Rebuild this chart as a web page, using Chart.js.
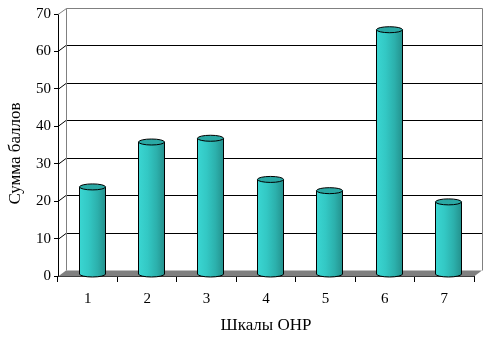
<!DOCTYPE html>
<html>
<head>
<meta charset="utf-8">
<script src="https://cdn.jsdelivr.net/npm/chart.js@4"></script>
<style>
  html, body { margin: 0; padding: 0; background: #fff; }
  #wrap { width: 495px; height: 339px; }
</style>
</head>
<body>
<div id="wrap"><canvas id="myChart" width="495" height="339"></canvas></div>
<script>
const scales = ['1', '2', '3', '4', '5', '6', '7']
const scores = [23, 35, 36, 25, 22, 65, 19]
const yTicks = [0, 10, 20, 30, 40, 50, 60, 70]

const DX = 8, DY = 6   // depth of the 3d box

// back wall, grid lines, floor
const wallPlugin = {
    id: 'wall',
    beforeDatasetsDraw(chart) {
        const ctx = chart.ctx
        const y = chart.scales.y
        const a = chart.chartArea
        ctx.save()
        ctx.lineWidth = 1
        // grid lines on the back wall
        ctx.strokeStyle = '#000'
        yTicks.forEach(v => {
            if (v === 0 || v === 70) return
            const py = Math.round(y.getPixelForValue(v)) + 0.5
            ctx.beginPath()
            ctx.moveTo(a.left, py)
            ctx.lineTo(a.left + DX, py - DY)
            ctx.lineTo(a.right + DX, py - DY)
            ctx.stroke()
        })
        // wall frame
        const top = Math.round(y.getPixelForValue(70)) + 0.5
        const bot = Math.round(y.getPixelForValue(0)) + 0.5
        ctx.strokeStyle = '#808080'
        ctx.beginPath()
        ctx.moveTo(a.left, top)
        ctx.lineTo(a.left + DX + 0.5, top - DY)
        ctx.lineTo(a.right + DX + 0.5, top - DY)
        ctx.lineTo(a.right + DX + 0.5, bot - DY)
        ctx.moveTo(a.left + DX + 0.5, top - DY)
        ctx.lineTo(a.left + DX + 0.5, bot - DY)
        ctx.stroke()
        // floor
        ctx.fillStyle = '#808080'
        ctx.beginPath()
        ctx.moveTo(a.left, bot)
        ctx.lineTo(a.left + DX, bot - DY)
        ctx.lineTo(a.right + DX, bot - DY)
        ctx.lineTo(a.right, bot)
        ctx.closePath()
        ctx.fill()
        ctx.restore()
    },
    afterDatasetsDraw(chart) {
        const ctx = chart.ctx
        const meta = chart.getDatasetMeta(0)
        ctx.save()
        ctx.lineWidth = 1
        ctx.strokeStyle = '#000'
        meta.data.forEach(bar => {
            const cx = bar.x + DX / 2
            const w = bar.width
            const l = Math.round(cx - w / 2) + 0.5
            const r = l + Math.round(w)
            const rx = (r - l) / 2
            const mx = (l + r) / 2
            const ry = 3
            const ty = bar.y - DY / 2
            const by = bar.base - 1.5
            const g = ctx.createLinearGradient(l, 0, r, 0)
            g.addColorStop(0, '#3ad6d2')
            g.addColorStop(0.35, '#33c8c4')
            g.addColorStop(0.7, '#2cb0ac')
            g.addColorStop(1, '#24918d')
            ctx.fillStyle = g
            ctx.beginPath()
            ctx.moveTo(l, ty)
            ctx.lineTo(l, by)
            ctx.ellipse(mx, by, rx, ry, 0, Math.PI, 0, true)
            ctx.lineTo(r, ty)
            ctx.closePath()
            ctx.fill()
            ctx.beginPath()
            ctx.moveTo(l, ty)
            ctx.lineTo(l, by)
            ctx.ellipse(mx, by, rx, ry, 0, Math.PI, 0, true)
            ctx.lineTo(r, ty)
            ctx.stroke()
            // top cap
            ctx.fillStyle = '#2aa8a4'
            ctx.beginPath()
            ctx.ellipse(mx, ty, rx, ry, 0, 0, Math.PI * 2)
            ctx.fill()
            ctx.stroke()
        })
        ctx.restore()
    }
}

const serif = 'Liberation Serif'

new Chart(document.getElementById('myChart'), {
    type: 'bar',
    data: {
        labels: scales,
        datasets: [{
            data: scores,
            backgroundColor: 'rgba(0,0,0,0)',
            borderWidth: 0,
            categoryPercentage: 1,
            barPercentage: 0.44
        }]
    },
    options: {
        responsive: false,
        animation: false,
        events: [],
        layout: { padding: { top: 14, right: 21, left: 0, bottom: 0 } },
        plugins: { legend: { display: false }, tooltip: { enabled: false } },
        scales: {
            x: {
                grid: { drawOnChartArea: false, tickLength: 6, color: '#000' },
                border: { color: '#000' },
                ticks: { color: '#000', font: { family: serif, size: 15 }, padding: 8 },
                title: { display: true, text: 'Шкалы ОНР', color: '#000',
                    font: { family: serif, size: 17 }, padding: { top: 0, bottom: 3 } },
                afterFit(s) { s.height = 63 }
            },
            y: {
                min: 0, max: 70,
                ticks: { stepSize: 10, color: '#000', font: { family: serif, size: 15 }, padding: 3 },
                grid: { drawOnChartArea: false, tickLength: 4, color: '#000' },
                border: { color: '#000' },
                // trailing spaces push the rotated title a little down, as in the picture
                title: { display: true, text: 'Сумма баллов\u00a0\u00a0\u00a0\u00a0', color: '#000',
                    font: { family: serif, size: 17 }, padding: { top: 5, bottom: 0 } },
                afterFit(s) { s.width = 58 }
            }
        }
    },
    plugins: [wallPlugin]
})
</script>
</body>
</html>
